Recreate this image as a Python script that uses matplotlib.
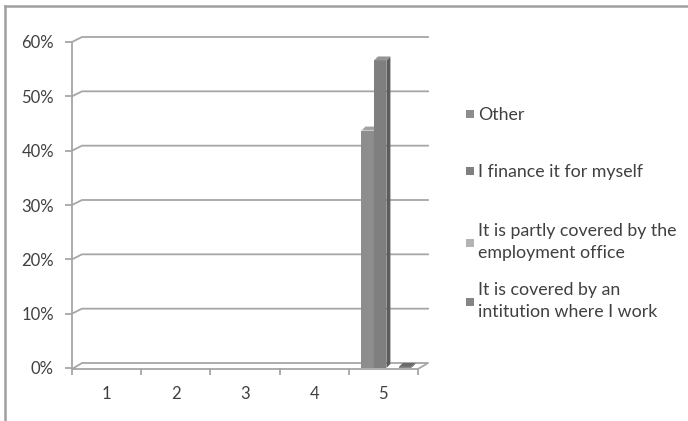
import numpy as np
import matplotlib
matplotlib.use("Agg")
import matplotlib.pyplot as plt
from matplotlib.patches import Polygon, Patch
from matplotlib.lines import Line2D

# ---- data ----
categories = ["1", "2", "3", "4", "5"]
series_names = ["Other", "I finance it for myself",
                "It is partly covered by the\nemployment office",
                "It is covered by an\nintitution where I work"]
other = [0, 0, 0, 0, 0.437]
self_financed = [0, 0, 0, 0, 0.566]
employment_office = [0, 0, 0, 0, 0.0]
institution = [0, 0, 0, 0, 0.002]
y_ticks = [0, 0.1, 0.2, 0.3, 0.4, 0.5, 0.6]
y_tick_labels = ["0%", "10%", "20%", "30%", "40%", "50%", "60%"]

values = [other, self_financed, employment_office, institution]
face_colors = ["#8d8d8d", "#7f7f7f", "#b3b3b3", "#858585"]
side_colors = ["#6a6a6a", "#5c5c5c", "#8f8f8f", "#5e5e5e"]
top_colors = ["#a2a2a2", "#959595", "#c4c4c4", "#6a6a6a"]
grid_col = "#a6a6a6"
text_col = "#404040"

plt.rcParams['font.family'] = ['Lato', 'DejaVu Sans']

W, H = 688, 421
fig = plt.figure(figsize=(W / 100, H / 100), dpi=100)
ax = fig.add_axes([72 / W, (H - 368) / H, 346 / W, 326 / H])
ax.set_xlim(0.5, 5.5)
ax.set_ylim(0, 0.6)
for s in ax.spines.values():
    s.set_visible(False)

# pixel -> data unit conversions for the fake 3d depth
px_x = 5.0 / 346
px_y = 0.6 / 326
wall_dx, wall_dy = 10 * px_x, 5 * px_y
bar_dx, bar_dy = 4 * px_x, 4 * px_y

# back wall gridlines + connectors
for yv in y_ticks[1:]:
    ax.plot([0.5, 0.5 + wall_dx, 5.5 + wall_dx], [yv, yv + wall_dy, yv + wall_dy],
            color=grid_col, lw=1.3, clip_on=False, zorder=1)
# floor
ax.plot([0.5, 5.5, 5.5 + wall_dx, 0.5 + wall_dx, 0.5],
        [-1 * px_y, -1 * px_y, wall_dy, wall_dy, -1 * px_y],
        color=grid_col, lw=1.3, clip_on=False, zorder=1)
# front vertical axis
ax.plot([0.5, 0.5], [0, 0.6], color=grid_col, lw=1.3, clip_on=False, zorder=1)

# bars
x = np.arange(1, len(categories) + 1)
n = len(values)
bw = 0.18
shift = 3 * px_x
for i, vals in enumerate(values):
    xs = x - bw * n / 2 + bw * i + bw / 2 + shift
    for xc, v in zip(xs, vals):
        if v <= 0:
            continue
        x0, x1 = xc - bw / 2, xc + bw / 2
        ax.bar(xc, v, width=bw, color=face_colors[i], edgecolor="none", zorder=3 + i)
        ax.add_patch(Polygon([[x1, 0], [x1 + bar_dx, bar_dy], [x1 + bar_dx, v + bar_dy], [x1, v]],
                             closed=True, facecolor=side_colors[i], edgecolor="none",
                             zorder=3 + i, clip_on=False))
        ax.add_patch(Polygon([[x0, v], [x0 + bar_dx, v + bar_dy], [x1 + bar_dx, v + bar_dy], [x1, v]],
                             closed=True, facecolor=top_colors[i], edgecolor="none",
                             zorder=3 + i, clip_on=False))

# ticks
ax.set_yticks(y_ticks)
ax.set_yticklabels(y_tick_labels)
ax.set_xticks(np.arange(0.5, len(categories) + 1, 1.0))
ax.set_xticklabels([])
ax.set_xticks(x, minor=True)
ax.set_xticklabels(categories, minor=True)
ax.tick_params(axis="y", length=5, width=1.3, color=grid_col, labelsize=12,
               labelcolor=text_col, pad=8)
ax.tick_params(axis="x", which="major", length=5, width=1.3, color=grid_col, direction="out")
ax.tick_params(axis="x", which="minor", length=0, labelsize=12, labelcolor=text_col, pad=13)

# legend, one entry at a time so the spacing matches
legend_centers = [115, 172, 242, 301]
for name, col, yc in zip(series_names, face_colors, legend_centers):
    leg = fig.legend([Patch(facecolor=col, edgecolor="none")], [name], loc="center left",
                     bbox_to_anchor=(466 / W, 1 - yc / H), frameon=False,
                     fontsize=12.8, labelcolor=text_col, handlelength=0.45, handleheight=0.45,
                     handletextpad=0.25, borderaxespad=0, borderpad=0)
    for t in leg.get_texts():
        t.set_linespacing(1.43)
    for p in leg.get_patches():
        p.set_height(5.8)
        p.set_width(5.8)

# outer chart frame (only top and left visible)
fig.add_artist(Line2D([5 / W, 5 / W], [0, 1 - 6 / H], transform=fig.transFigure,
                      color="#a0a0a0", lw=1.8))
fig.add_artist(Line2D([5 / W, 1], [1 - 6 / H, 1 - 6 / H], transform=fig.transFigure,
                      color="#a0a0a0", lw=1.8))

fig.savefig("out.png", dpi=100)
